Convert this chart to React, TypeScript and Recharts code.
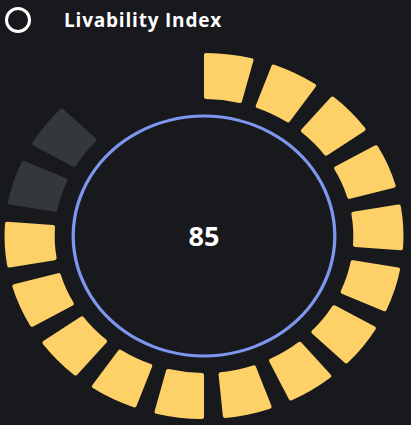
import { PieChart, Pie, Cell } from "recharts";

const title = "Livability Index";
const score = 85;

// one entry per slot around the gauge, clockwise from 12 o'clock
const segmentSizes = [1, 1, 1, 1, 1, 1, 1, 1, 1, 1, 1, 1, 1, 1, 1, 1, 1, 1];
const segmentStates = [
  "on", "on", "on", "on", "on", "on", "on", "on", "on",
  "on", "on", "on", "on", "on", "dim", "dim", "off", "off",
];
const ringValues = [1];

const colors: Record<string, string> = {
  on: "#fdd167",
  dim: "#35383b",
  off: "transparent",
};

const BG = "#18191c";

export default function App() {
  const segments = segmentSizes.map((v, i) => ({
    name: "seg" + (i + 1),
    value: v,
    state: segmentStates[i],
  }));
  const ring = ringValues.map((v) => ({ name: "ring", value: v }));

  return (
    <div
      style={{
        position: "absolute",
        left: 0,
        top: 0,
        width: 411,
        height: 425,
        background: BG,
        overflow: "hidden",
        fontFamily: "'Open Sans', sans-serif",
      }}
    >
      <div
        style={{
          position: "absolute",
          left: 5,
          top: 7,
          width: 20,
          height: 20,
          border: "3.5px solid #fff",
          borderRadius: "50%",
        }}
      />
      <div
        style={{
          position: "absolute",
          left: 64,
          top: 6,
          color: "#fff",
          fontWeight: 700,
          fontSize: 19,
          letterSpacing: 0.8,
          lineHeight: "28px",
        }}
      >
        {title}
      </div>

      <div
        style={{
          position: "absolute",
          left: 3.5,
          top: 36,
          width: 400,
          height: 400,
          transform: "scaleX(1.09)",
          transformOrigin: "200px 200px",
        }}
      >
        <PieChart
          width={400}
          height={400}
          margin={{ top: 0, right: 0, bottom: 0, left: 0 }}
        >
          <Pie
            data={segments}
            dataKey="value"
            cx={200}
            cy={200}
            innerRadius={137}
            outerRadius={183}
            startAngle={90}
            endAngle={-270}
            paddingAngle={5.5}
            cornerRadius={2}
            stroke="none"
            isAnimationActive={false}
          >
            {segments.map((s) => (
              <Cell key={s.name} fill={colors[s.state]} />
            ))}
          </Pie>
          <Pie
            data={ring}
            dataKey="value"
            cx={200}
            cy={200}
            innerRadius={118.5}
            outerRadius={121.5}
            startAngle={90}
            endAngle={-270}
            fill="#7d96ee"
            stroke="none"
            isAnimationActive={false}
          />
        </PieChart>
      </div>

      <div
        style={{
          position: "absolute",
          left: 154,
          top: 216,
          width: 100,
          textAlign: "center",
          color: "#fff",
          fontWeight: 700,
          fontSize: 27,
          lineHeight: "40px",
        }}
      >
        {score}
      </div>
    </div>
  );
}
